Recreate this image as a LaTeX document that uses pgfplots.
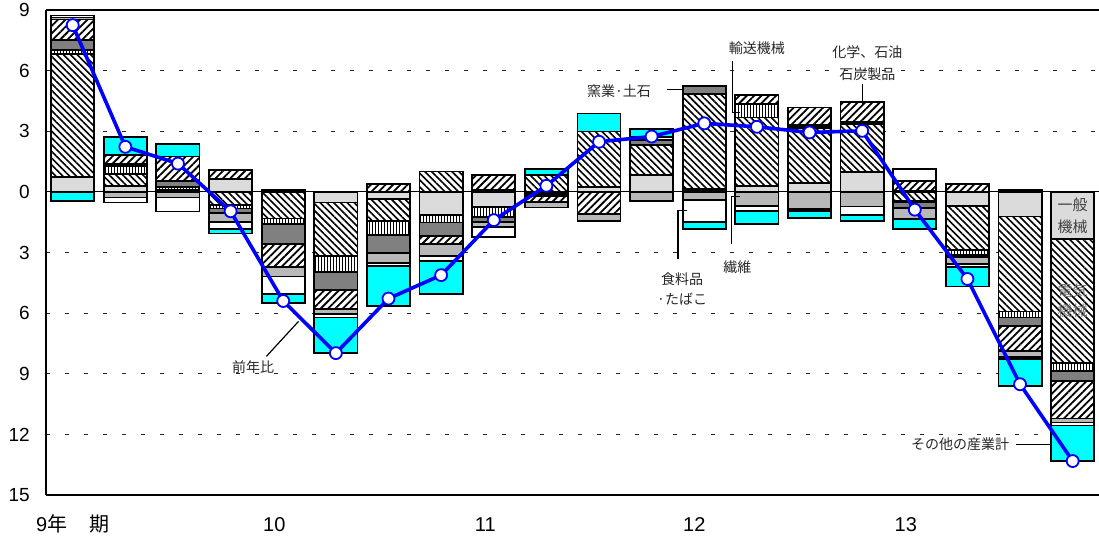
\documentclass[border=0pt]{standalone}
\usepackage{fontspec}
\setmainfont{Liberation Sans}
\newfontfamily\jp{Noto Sans CJK JP}
\usepackage{pgfplots}
\pgfplotsset{compat=1.18}
\usepackage{pgfplotstable}
\usetikzlibrary{patterns.meta}

\definecolor{lineblue}{RGB}{0,0,255}
\definecolor{othercyan}{RGB}{0,255,255}

% contributions by industry (percentage points), last column = total (前年比)
\pgfplotstableread{
i  B     G      E      T      C      K      F      W      O      L
0  0     0.72   6.10   0.21   0.50   1.00   0.10   0.10  -0.45   8.25
1  0     0.30   0.57   0.42   0.08   0.46  -0.28  -0.25   0.89   2.23
2  0     0.10   0      0.13   0.30   1.22  -0.28  -0.69   0.61   1.40
3  0     0.63  -0.66  -0.16  -0.23   0.46  -0.43  -0.37  -0.21  -0.96
4  0.08  0     -1.32  -0.28  -0.99  -1.11  -0.49  -0.88  -0.41  -5.40
5  0    -0.53  -2.64  -0.79  -0.89  -0.93  -0.28  -0.16  -1.77  -7.98
6  0    -0.37  -1.07  -0.71  -0.89   0.38  -0.47  -0.16  -1.98  -5.28
7  0    -1.15   1.01  -0.37  -0.66  -0.41  -0.58  -0.24  -1.65  -4.12
8  0.08 -0.75   0     -0.50  -0.25   0.76  -0.25  -0.50   0     -1.40
9  0    -0.10   0.84  -0.12   0     -0.30  -0.25   0      0.28   0.30
10 0     0.25   2.74   0      0     -1.10  -0.34   0      0.89   2.48
11 0     0.84   1.49   0      0.23   0     -0.44   0.15   0.40   2.74
12 0.13  0      4.70   0      0.42   0     -0.40  -1.10  -0.33   3.39
13 0     0.30   3.38   0.67   0      0.45  -0.69  -0.27  -0.64   3.22
14 0     0.45   2.70   0.10   0.08   0.85  -0.85  -0.10  -0.35   2.94
15 0     0.97   2.38   0.10   0      1.00  -0.72  -0.42  -0.30   3.02
16 0     0.05  -0.45  -0.05  -0.30   0.50  -0.55   0.57  -0.50  -0.88
17 0    -0.68  -2.20  -0.25  -0.10   0.37  -0.35  -0.15  -0.95  -4.31
18 0.10 -1.22  -4.70  -0.30  -0.40  -1.25  -0.30  -0.10  -1.35  -9.52
19 0    -2.34  -6.14  -0.38  -0.50  -1.85  -0.20  -0.15  -1.75 -13.32
}\contrib

\pgfplotsset{
  base/.style={width=526.3pt, height=242.5pt, scale only axis,
    at={(0,0)}, anchor=south west,
    xmin=-0.5, xmax=19.5, ymin=-15, ymax=9},
  stk/.style={base, ybar stacked, bar width=0.82},
  seg/.style={draw=black, line width=0.9pt},
  sB/.style={seg, fill=black},
  sG/.style={seg, fill=black!14},
  sE/.style={seg, fill=white, postaction={pattern={Lines[angle=-45,distance=2.4pt,line width=0.8pt]}}},
  sT/.style={seg, fill=white, postaction={pattern={Lines[angle=90,distance=1.5pt,line width=0.5pt]}}},
  sC/.style={seg, fill=black!50},
  sK/.style={seg, fill=white, postaction={pattern={Lines[angle=45,distance=2.6pt,line width=0.9pt]}}},
  sF/.style={seg, fill=black!28},
  sW/.style={seg, fill=white},
  sO/.style={seg, fill=othercyan},
}
\newcommand{\jpl}{\jp\fontsize{7}{8.5}\selectfont}

\begin{document}
\begin{tikzpicture}
% positive parts
\begin{axis}[stk,
  axis x line=bottom, axis y line=left,
  axis line style={-, line width=1pt},
  major tick length=0pt,
  ytick={-15,-12,...,9},
  yticklabels={15,12,9,6,3,0,3,6,9},
  xtick={0,3.83,7.84,11.81,15.83},
  xticklabels={9{\jp 年}\hspace{1.1em}{\jp 期},10,11,12,13},
  ymajorgrids,
  grid style={dash pattern=on 2pt off 7.5pt, black!85, line width=0.5pt},
  yticklabel style={font=\fontsize{9.5}{11}\selectfont, xshift=-4.8pt},
  xticklabel style={font=\fontsize{10}{12}\selectfont, text height=8pt, text depth=1pt, yshift=-6.7pt},
]
\draw[line width=0.5pt] (axis cs:-0.5,0) -- (axis cs:19.5,0);
\addplot[sB] table[x=i, y expr={max(\thisrow{B},0)}] {\contrib};
\addplot[sG] table[x=i, y expr={max(\thisrow{G},0)}] {\contrib};
\addplot[sE] table[x=i, y expr={max(\thisrow{E},0)}] {\contrib};
\addplot[sT] table[x=i, y expr={max(\thisrow{T},0)}] {\contrib};
\addplot[sC] table[x=i, y expr={max(\thisrow{C},0)}] {\contrib};
\addplot[sK] table[x=i, y expr={max(\thisrow{K},0)}] {\contrib};
\addplot[sF] table[x=i, y expr={max(\thisrow{F},0)}] {\contrib};
\addplot[sW] table[x=i, y expr={max(\thisrow{W},0)}] {\contrib};
\addplot[sO] table[x=i, y expr={max(\thisrow{O},0)}] {\contrib};
\end{axis}

% negative parts
\begin{axis}[stk, hide axis]
\addplot[sB] table[x=i, y expr={min(\thisrow{B},0)}] {\contrib};
\addplot[sG] table[x=i, y expr={min(\thisrow{G},0)}] {\contrib};
\addplot[sE] table[x=i, y expr={min(\thisrow{E},0)}] {\contrib};
\addplot[sT] table[x=i, y expr={min(\thisrow{T},0)}] {\contrib};
\addplot[sC] table[x=i, y expr={min(\thisrow{C},0)}] {\contrib};
\addplot[sK] table[x=i, y expr={min(\thisrow{K},0)}] {\contrib};
\addplot[sF] table[x=i, y expr={min(\thisrow{F},0)}] {\contrib};
\addplot[sW] table[x=i, y expr={min(\thisrow{W},0)}] {\contrib};
\addplot[sO] table[x=i, y expr={min(\thisrow{O},0)}] {\contrib};
\end{axis}

% total line and annotations
\begin{axis}[base, hide axis, clip=false]
\draw[line width=1pt] (rel axis cs:0,1) -- (rel axis cs:1,1);
% leaders
\draw[line width=0.6pt] (axis cs:3.68,-8.14) -- (axis cs:4.29,-6.41);
\draw[line width=0.6pt] (axis cs:11.29,5.08) -- (axis cs:11.61,5.08);
\draw[line width=0.6pt] (axis cs:12.53,6.47) -- (axis cs:12.53,3.94) -- (axis cs:12.67,3.94);
\draw[line width=0.6pt] (axis cs:15.0,5.33) -- (axis cs:15.0,4.24);
\draw[line width=0.6pt] (axis cs:11.5,-3.34) -- (axis cs:11.5,-0.92) -- (axis cs:11.68,-0.92);
\draw[line width=0.6pt] (axis cs:12.51,-2.59) -- (axis cs:12.51,-0.21) -- (axis cs:12.68,-0.21);
\draw[line width=0.6pt] (axis cs:17.93,-12.49) -- (axis cs:18.59,-12.49);
\addplot[lineblue, line width=1.8pt, mark=*, mark size=3pt,
  mark options={fill=white, draw=lineblue, line width=0.9pt, solid}]
  table[x=i, y=L] {\contrib};
% labels
\node[font=\jpl, text=black!85] at (axis cs:3.43,-8.69) {前年比};
\node[font=\jpl, text=black!85, anchor=east] at (axis cs:11.12,4.98) {窯業·土石};
\node[font=\jpl, text=black!85] at (axis cs:13.0,7.11) {輸送機械};
\node[font=\jpl, text=black!85] at (axis cs:15.1,6.91) {化学、石油};
\node[font=\jpl, text=black!85] at (axis cs:15.1,5.83) {石炭製品};
\node[font=\jpl, text=black!85] at (axis cs:11.58,-4.33) {食料品};
\node[font=\jpl, text=black!85] at (axis cs:11.58,-5.32) {·たばこ};
\node[font=\jpl, text=black!85] at (axis cs:12.63,-3.73) {繊維};
\node[font=\jpl, text=black!85] at (axis cs:16.86,-12.49) {その他の産業計};
\node[font=\jp\fontsize{7.5}{9}\selectfont, text=black!75] at (axis cs:19.0,-0.66) {一般};
\node[font=\jp\fontsize{7.5}{9}\selectfont, text=black!75] at (axis cs:19.0,-1.75) {機械};
\node[font=\jp\fontsize{7.5}{9}\selectfont, text=black!55] at (axis cs:19.0,-4.92) {電気};
\node[font=\jp\fontsize{7.5}{9}\selectfont, text=black!55] at (axis cs:19.0,-5.91) {機械};
\end{axis}
\pgfresetboundingbox
\path (-23.2pt,-23pt) rectangle (526.3pt,247.5pt);
\end{tikzpicture}
\end{document}
